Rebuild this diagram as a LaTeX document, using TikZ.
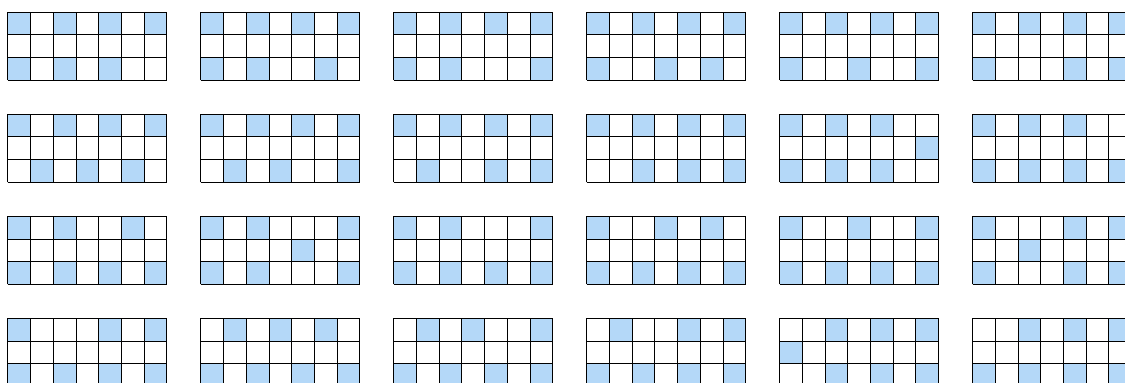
\documentclass[tikz,border=0pt]{standalone}
\usepackage{tikz}
\definecolor{cellblue}{RGB}{180,216,248}
\tikzset{tile/.style={fill=cellblue}}
\begin{document}
\begin{tikzpicture}[x=0.5cm,y=0.5cm,line width=0.6pt]
  \useasboundingbox (-0.35,0.53) rectangle (49.21,-16.34);
  \clip (-0.35,0.53) rectangle (49.21,-16.34);
  % ---- 24 boards, 3x7 each; \cells = filled col/row ----
  \foreach \r/\c/\cells in {
    0/0/{0/0,2/0,4/0,6/0,0/2,2/2,4/2},
    0/1/{0/0,2/0,4/0,6/0,0/2,2/2,5/2},
    0/2/{0/0,2/0,4/0,6/0,0/2,2/2,6/2},
    0/3/{0/0,2/0,4/0,6/0,0/2,3/2,5/2},
    0/4/{0/0,2/0,4/0,6/0,0/2,3/2,6/2},
    0/5/{0/0,2/0,4/0,6/0,0/2,4/2,6/2},
    1/0/{0/0,2/0,4/0,6/0,1/2,3/2,5/2},
    1/1/{0/0,2/0,4/0,6/0,1/2,3/2,6/2},
    1/2/{0/0,2/0,4/0,6/0,1/2,4/2,6/2},
    1/3/{0/0,2/0,4/0,6/0,2/2,4/2,6/2},
    1/4/{0/0,2/0,4/0,6/1,0/2,2/2,4/2},
    1/5/{0/0,2/0,4/0,0/2,2/2,4/2,6/2},
    2/0/{0/0,2/0,5/0,0/2,2/2,4/2,6/2},
    2/1/{0/0,2/0,6/0,4/1,0/2,2/2,6/2},
    2/2/{0/0,2/0,6/0,0/2,2/2,4/2,6/2},
    2/3/{0/0,3/0,5/0,0/2,2/2,4/2,6/2},
    2/4/{0/0,3/0,6/0,0/2,2/2,4/2,6/2},
    2/5/{0/0,4/0,6/0,2/1,0/2,4/2,6/2},
    3/0/{0/0,4/0,6/0,0/2,2/2,4/2,6/2},
    3/1/{1/0,3/0,5/0,0/2,2/2,4/2,6/2},
    3/2/{1/0,3/0,6/0,0/2,2/2,4/2,6/2},
    3/3/{1/0,4/0,6/0,0/2,2/2,4/2,6/2},
    3/4/{2/0,4/0,6/0,0/1,2/2,4/2,6/2},
    3/5/{2/0,4/0,6/0,0/2,2/2,4/2,6/2}}{
    \begin{scope}[shift={(8.5*\c,-4.5*\r)}]
      \foreach \i/\j in \cells \fill[tile] (\i,-\j) rectangle ++(1,-1);
      \draw[step=1] (0,-3) grid (7,0);
    \end{scope}
  }
\end{tikzpicture}
\end{document}
